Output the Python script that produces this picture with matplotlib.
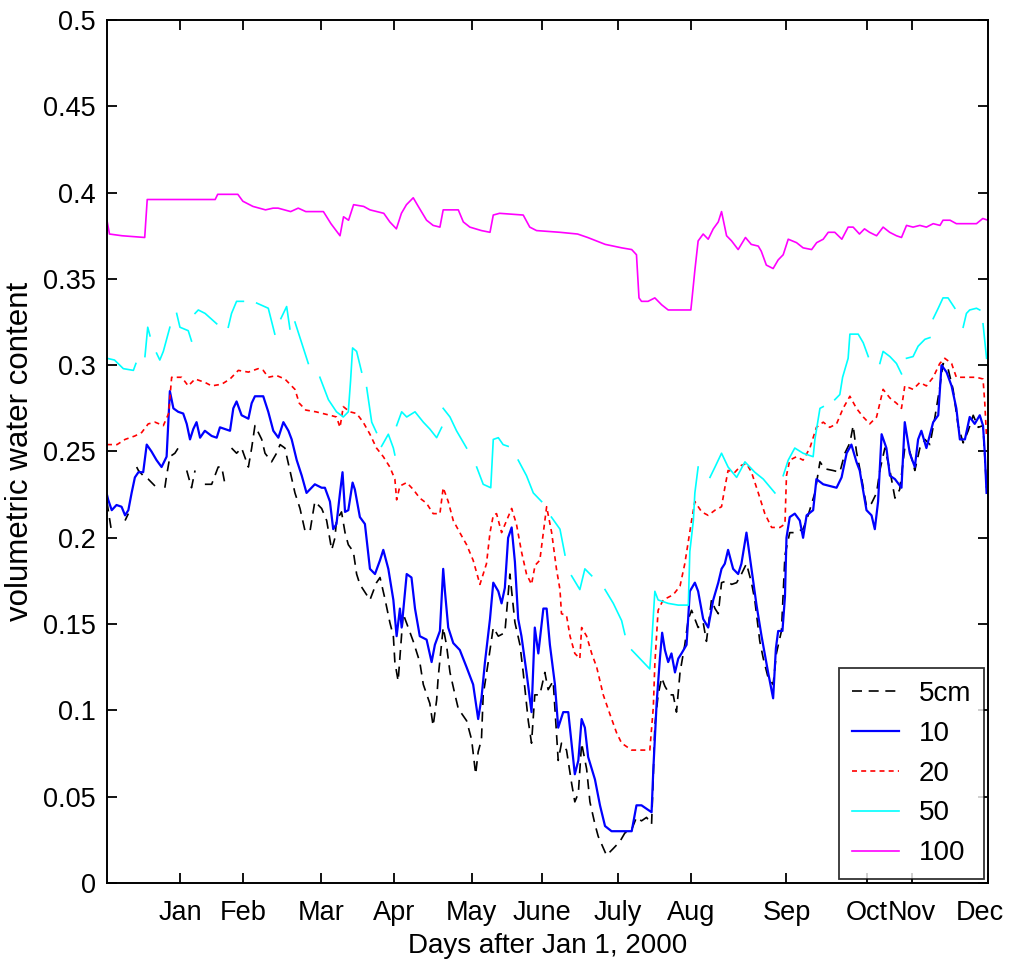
import numpy as np
import matplotlib
matplotlib.use("Agg")
import matplotlib.pyplot as plt
from matplotlib.transforms import ScaledTranslation

nan = np.nan

# soil moisture at five depths, days counted from the start of the record
day_100 = [0, 1, 6, 15, 16, 43, 44, 52, 54, 58, 63, 66, 68, 73, 76, 79, 86, 89, 92.6, 94,
           96, 98, 102, 104.5, 110, 112.4, 115, 117, 119, 121.7, 123.7, 127, 129.6, 132.3, 133.6,
           139.6, 141.6, 144.2, 148.8, 152.2, 153.5, 156, 165.4, 168, 170.7, 180, 187, 191, 198,
           204.5, 208.5, 210.4, 211.4, 212.4, 215, 217.7, 220.4, 223, 228, 232, 232.5, 233.6,
           234.9, 236.9, 238.9, 240.9, 242.9, 244.2, 246.2, 248.2, 250.8, 253.7, 256, 258.8, 260,
           262, 264.7, 266.7, 268.7, 270.7, 274, 276.6, 280, 282, 284.6, 286.6, 289.2, 292, 294.5,
           296.5, 299, 301, 303, 305.8, 308.4, 311, 313.7, 315.7, 317.7, 320.3, 323, 325.6, 328.3,
           331, 332.2, 335, 337.5, 340, 345.5, 348, 350]
vwc_100 = [0.384, 0.376, 0.375, 0.374, 0.396, 0.396, 0.399, 0.399, 0.395, 0.392, 0.390, 0.391,
           0.391, 0.389, 0.391, 0.389, 0.389, 0.382, 0.375, 0.386, 0.384, 0.393, 0.392, 0.390,
           0.388, 0.383, 0.379, 0.388, 0.393, 0.397, 0.392, 0.384, 0.381, 0.380, 0.390, 0.390,
           0.383, 0.380, 0.378, 0.377, 0.387, 0.388, 0.387, 0.380, 0.378, 0.377, 0.376, 0.374,
           0.370, 0.368, 0.367, 0.364, 0.339, 0.337, 0.337, 0.339, 0.335, 0.332, 0.332, 0.332,
           0.339, 0.355, 0.372, 0.376, 0.373, 0.379, 0.383, 0.389, 0.375, 0.372, 0.367, 0.374,
           0.370, 0.369, 0.366, 0.358, 0.356, 0.361, 0.364, 0.373, 0.371, 0.368, 0.367, 0.371,
           0.373, 0.377, 0.377, 0.373, 0.380, 0.380, 0.376, 0.379, 0.377, 0.375, 0.380, 0.377,
           0.375, 0.374, 0.381, 0.380, 0.381, 0.380, 0.382, 0.381, 0.384, 0.384, 0.382, 0.382,
           0.382, 0.385, 0.384]

# 50 cm probe has gaps (nan) where readings are missing
day_50 = [0, 3, 6.5, 10.5, 11.5, 13, 15.1, 16.2, 17.1, 18.4, 19.7, 21, 22.4, 25, 26.3,
          27.7, 29, 32.3, 33.6, 34.3, 35, 36.3, 39, 43.6, 46, 48.2, 49.5, 51.5, 54.2, 57,
          59.5, 64.1, 66.7, 68, 69.1, 71.4, 72.7, 73.7, 74.7, 80, 82,
          84.6, 88, 91.2, 93.9, 95.9, 96.8, 97.6, 99.2, 101.2, 102.2,
          103.2, 105.2, 107.1, 108.1, 109.1, 111.8, 113.8, 114.4, 114.8,
          115.1, 117.1, 119.1, 122.4, 125.7, 128.3, 131, 133, 133.3,
          133.6, 136.3, 138.9, 142.9, 145,
          146.9, 149.5, 152.5, 153.5, 155.5, 157.4, 159.4, 161.4,
          163.4, 166.7, 169.4, 172.7, 174.7, 176.6, 180, 182, 183.3,
          184.6, 187.9, 189.9, 192.6, 195, 197.9, 201.2, 204.5, 205.8, 207,
          208.5, 212.4, 215.7, 216.4, 217.7, 219, 223, 227, 231, 231.6, 233, 233.6, 234.9, 237,
          239.6, 241.6, 244.2, 246.8, 250.2, 253.5, 257.4, 260.8, 265.4, 266.5,
          268.7, 270.7, 273.3, 276.6, 280.6, 281.3, 283.3, 284.6, 287,
          289.2, 291.2, 292.3, 294.5, 295.2, 298.5, 300.5, 302.5, 305,
          307.1, 308.4, 311.1, 313.7, 315.7, 316.7,
          317.7, 320.3, 322.3, 325, 327, 327.6,
          328.3, 330.3, 332.2, 334.2, 336.9, 338.5,
          340.2, 341.5, 342.8, 345.5, 346.8, 347.5, 348.1, 349.5]
vwc_50 = [0.304, 0.303, 0.298, 0.297, 0.301, nan, 0.305, 0.322, 0.317, nan, 0.307, 0.303, 0.308, 0.322, nan,
          0.330, 0.322, 0.320, 0.314, nan, 0.330, 0.332, 0.330, 0.324, nan, 0.322, 0.330, 0.337, 0.337, nan,
          0.336, 0.333, 0.318, nan, 0.327, 0.334, 0.321, nan, 0.325, 0.301, nan,
          0.293, 0.280, 0.273, 0.270, 0.273, 0.291, 0.310, 0.308, 0.296, nan,
          0.287, 0.267, 0.261, nan, 0.253, 0.260, 0.252, 0.248, nan,
          0.265, 0.273, 0.270, 0.273, 0.267, 0.263, 0.258, 0.264, nan,
          0.275, 0.270, 0.262, 0.252, nan,
          0.241, 0.231, 0.229, 0.257, 0.258, 0.254, 0.253, nan,
          0.245, 0.236, 0.226, 0.221, nan, 0.212, 0.205, 0.190, nan,
          0.178, 0.170, 0.182, 0.178, nan, 0.170, 0.162, 0.152, 0.144, nan,
          0.135, 0.129, 0.124, 0.138, 0.169, 0.164, 0.162, 0.161, 0.161, 0.192, 0.210, 0.226, 0.241, nan,
          0.235, 0.241, 0.249, 0.241, 0.235, 0.244, 0.238, 0.234, 0.226, nan,
          0.236, 0.245, 0.252, 0.249, 0.247, 0.257, 0.275, 0.276, nan,
          0.280, 0.283, 0.293, 0.304, 0.318, 0.318, 0.313, 0.305, nan,
          0.301, 0.308, 0.305, 0.301, 0.295, nan,
          0.304, 0.305, 0.311, 0.315, 0.316, nan,
          0.327, 0.333, 0.339, 0.339, 0.333, nan,
          0.322, 0.330, 0.332, 0.333, 0.332, nan, 0.324, 0.304]

day_20 = [0, 4, 7.2, 11.1, 13.8, 16.4, 19.1, 22.4, 24.5, 25.7, 29.7, 32.3, 35, 39, 41.6, 45.6,
          48.9, 52.2, 56.2, 60.1, 62.1, 64.1, 67.4, 70.7, 74.7, 76.4, 79, 83, 88.6, 91.2, 92.6,
          93.9, 96.5, 99.2, 101.8, 104.5, 107.1, 109.8, 112.4, 114.4, 115.1, 116.4, 119.1, 121.7,
          124.3, 127, 129.6, 132.3, 133.6, 135.6, 137.6, 140.2, 142.9, 145.5, 148.2, 150.8, 152.2,
          153.5, 154.8, 156.8, 158.8, 160.8, 162.7, 164.7, 166.7, 168.7, 170.1, 172, 173.4, 174.7,
          176.7, 178.6, 180, 180.6, 182.6, 184, 185.9, 187.9, 188.6, 190.6, 192.6, 194.6, 197.2,
          199.8, 202.5, 204.5, 208.5, 215.7, 217.1, 217.7, 219, 221, 225, 227.7, 229.6, 232.3,
          233.6, 236.3, 238.9, 241.6, 244.2, 245.5, 246.8, 249.5, 252.1, 254.1, 256.1, 258.8,
          261.4, 264.1, 267.4, 269.4, 270, 271.3, 274, 276.6, 279.3, 281.9, 284.6, 287.2, 289.9,
          292.5, 295.2, 297.8, 300.5, 303.1, 305.8, 308.4, 311.1, 313.7, 315.7, 317, 320.3, 323,
          325.6, 328.3, 330.9, 332.9, 335.6, 337.5, 341.5, 345.5, 348.1, 348.8, 349.5]
vwc_20 = [0.254, 0.254, 0.257, 0.259, 0.261, 0.266, 0.267, 0.265, 0.272, 0.293, 0.293, 0.288,
          0.292, 0.290, 0.288, 0.289, 0.292, 0.297, 0.296, 0.298, 0.297, 0.293, 0.294, 0.292,
          0.286, 0.278, 0.274, 0.273, 0.271, 0.270, 0.264, 0.276, 0.273, 0.272, 0.267, 0.260,
          0.252, 0.247, 0.241, 0.234, 0.222, 0.230, 0.232, 0.228, 0.223, 0.220, 0.214, 0.214,
          0.229, 0.221, 0.210, 0.203, 0.196, 0.187, 0.173, 0.185, 0.203, 0.213, 0.214, 0.203,
          0.210, 0.217, 0.208, 0.192, 0.179, 0.173, 0.184, 0.187, 0.203, 0.218, 0.203, 0.182,
          0.170, 0.156, 0.155, 0.143, 0.133, 0.130, 0.148, 0.143, 0.133, 0.125, 0.109, 0.098,
          0.087, 0.081, 0.077, 0.077, 0.102, 0.127, 0.158, 0.164, 0.167, 0.172, 0.185, 0.210,
          0.221, 0.215, 0.213, 0.216, 0.218, 0.229, 0.239, 0.238, 0.242, 0.243, 0.238, 0.226,
          0.214, 0.206, 0.206, 0.208, 0.236, 0.245, 0.247, 0.245, 0.252, 0.264, 0.267, 0.264,
          0.266, 0.275, 0.282, 0.275, 0.270, 0.266, 0.270, 0.286, 0.281, 0.278, 0.275, 0.288,
          0.286, 0.290, 0.288, 0.293, 0.301, 0.304, 0.301, 0.293, 0.293, 0.293, 0.292, 0.278,
          0.258]

day_10 = [0, 0.5, 1.9, 3.8, 5.8, 7.2, 8.5, 9.8, 11.1, 12.5, 14.4, 15.8, 17.7, 19.7, 21.7, 23.7,
          25, 26.4, 28.3, 30.3, 31.7, 33, 34.3, 35.6, 37, 38.9, 41.6, 43.6, 44.9, 46.9, 48.9,
          50.2, 51.5, 53.5, 56.2, 57.5, 58.8, 62.1, 64.1, 66.1, 68.1, 70.1, 72.1, 73.4, 75.4,
          77.4, 79.3, 81.3, 82.6, 85.3, 86.6, 88.6, 89.9, 91.2, 92.6, 93.6, 94.6, 95.9, 97.6,
          98.5, 100.5, 102.5, 104.5, 106.5, 108.5, 109.8, 111.8, 113.8, 115.1, 116.4, 117.1,
          119.1, 121, 122.4, 124.3, 127, 129, 130.3, 132.3, 133.6, 134.3, 135.6, 137.6, 140.2,
          142.9, 145.5, 147.5, 148.8, 150.2, 152.2, 153.5, 155.5, 156.8, 158.1, 159.4, 160.8,
          162.1, 163.4, 164.7, 166.7, 168.7, 170, 171.4, 173.4, 174.7, 176, 178, 179.3, 181.3,
          183.3, 184.6, 185.9, 187.3, 188.6, 189.9, 191.2, 193.9, 195.9, 197.9, 200.5, 204.5,
          208.5, 210.4, 212.4, 214.4, 216.4, 217.1, 218.4, 219.7, 220.6, 221.7, 223, 224.3,
          225.7, 227, 228.3, 230.3, 231.6, 233.6, 234.9, 236.9, 238.9, 240.9, 242.9, 244.2,
          245.5, 246.8, 248.8, 250.8, 252.1, 254.1, 256.1, 258.1, 260.1, 262.7, 264.7, 265.8,
          266.7, 268.4, 269.4, 270, 271.3, 273.3, 275.3, 276.6, 278, 280.6, 281.9, 284.6, 287.2,
          289.9, 291.9, 293.9, 295.8, 297.8, 299.1, 301.8, 303.8, 305.1, 306.4, 307.8, 309.7,
          311.1, 313.1, 315.7, 317, 319, 321, 322.3, 323.6, 325.6, 328.3, 330.3, 331.6, 333.6,
          335.6, 337.5, 338.9, 340.9, 342.8, 344.8, 346.8, 348.1, 348.8, 349.5]
vwc_10 = [0.225, 0.222, 0.216, 0.219, 0.218, 0.213, 0.216, 0.226, 0.235, 0.238, 0.238, 0.254,
          0.250, 0.245, 0.241, 0.247, 0.285, 0.275, 0.273, 0.272, 0.266, 0.257, 0.263, 0.267,
          0.258, 0.262, 0.259, 0.258, 0.264, 0.263, 0.262, 0.275, 0.279, 0.271, 0.269, 0.278,
          0.282, 0.282, 0.273, 0.262, 0.258, 0.267, 0.262, 0.257, 0.245, 0.236, 0.226, 0.229,
          0.231, 0.229, 0.229, 0.221, 0.205, 0.208, 0.226, 0.238, 0.215, 0.216, 0.232, 0.228,
          0.212, 0.208, 0.182, 0.179, 0.187, 0.193, 0.182, 0.164, 0.143, 0.159, 0.148, 0.179,
          0.177, 0.159, 0.143, 0.141, 0.128, 0.138, 0.146, 0.182, 0.169, 0.148, 0.139, 0.135,
          0.125, 0.115, 0.095, 0.107, 0.128, 0.153, 0.174, 0.169, 0.162, 0.171, 0.200, 0.206,
          0.186, 0.153, 0.143, 0.122, 0.099, 0.148, 0.133, 0.159, 0.159, 0.138, 0.115, 0.090,
          0.099, 0.099, 0.081, 0.063, 0.071, 0.095, 0.090, 0.073, 0.060, 0.045, 0.033, 0.030,
          0.030, 0.030, 0.045, 0.045, 0.043, 0.041, 0.066, 0.104, 0.130, 0.145, 0.135, 0.128,
          0.133, 0.122, 0.130, 0.133, 0.138, 0.169, 0.174, 0.169, 0.153, 0.148, 0.164, 0.174,
          0.182, 0.185, 0.193, 0.182, 0.179, 0.185, 0.203, 0.182, 0.161, 0.143, 0.122, 0.107,
          0.136, 0.146, 0.146, 0.166, 0.200, 0.212, 0.214, 0.210, 0.200, 0.213, 0.216, 0.234,
          0.231, 0.230, 0.229, 0.235, 0.249, 0.254, 0.244, 0.239, 0.216, 0.213, 0.205, 0.221,
          0.260, 0.252, 0.236, 0.234, 0.229, 0.267, 0.249, 0.241, 0.257, 0.262, 0.252, 0.267,
          0.271, 0.300, 0.296, 0.288, 0.275, 0.257, 0.257, 0.270, 0.266, 0.271, 0.265, 0.249,
          0.226]

day_5 = [0, 0.5, 1.9, 4, 7.2, 8.5, 10, 11.8, 12.5, 14.4, 16.4, 19.1, 21, 23, 23.7, 25, 27, 28.3,
         30, 31.7, 33.6, 35, 37, 38.9, 41.6, 44.2, 45.6, 46.9, 48, 49.5, 51.5, 53.5, 56.2, 57.5,
         58.8, 61.5, 62.8, 65.4, 67.4, 68.8, 70.7, 72.7, 74.7, 76.7, 78.7, 80.7, 82.6, 85.3,
         87.3, 89.3, 90.6, 91.2, 93.2, 94.6, 95.9, 97.9, 99.2, 100.5, 103.2, 104.5, 107.1, 108.5,
         110.4, 112.4, 113.8, 114.4, 115.7, 117.7, 119.7, 121.7, 124.3, 125.7, 128.3, 129.6, 131,
         131.6, 133.6, 134.9, 136.3, 138.3, 139.6, 142.9, 144.9, 146.5, 147.5, 148.8, 149.5,
         151.5, 153.5, 155.5, 158.1, 160.1, 162.1, 164.1, 165.4, 167.4, 168.7, 170, 172, 174,
         175.3, 177.3, 179.3, 180.6, 182.6, 184.6, 185.9, 187.3, 188.6, 190.6, 191.9, 193.9,
         195.2, 198.5, 201.2, 203.8, 205.8, 208.5, 210.4, 212.4, 214.4, 216.4, 217.1, 217.7, 219,
         220.4, 221.7, 223.7, 225, 226.3, 227.7, 229.6, 231, 232.3, 234.9, 236.9, 238.2, 240.2,
         241.6, 242.9, 244.2, 246.2, 248.2, 250.2, 252.1, 254.1, 256.1, 257.4, 259.4, 260.8,
         262.7, 264.7, 266, 268, 269.4, 271.3, 273.3, 276.6, 278.6, 281.3, 283.3, 285.2, 288.5,
         291.2, 293.2, 295.2, 296.5, 297.8, 299.8, 301.8, 303.8, 305.8, 307.1, 309.1, 311.1,
         313.1, 315, 317, 319, 321, 323, 325, 327, 329, 331, 332.2, 334.2, 336.2, 338.2, 340.2,
         342.2, 344.2, 346.2, 348.1, 349.5]
vwc_5 = [0.221, 0.216, 0.203, nan, 0.210, 0.214, nan, 0.241, 0.239, 0.236, 0.234, 0.230, nan,
         0.229, 0.236, 0.247, 0.249, 0.252, nan, 0.239, 0.229, 0.239, nan, 0.231, 0.231, 0.241,
         0.241, 0.231, nan, 0.252, 0.249, 0.252, 0.241, 0.252, 0.265, 0.257, 0.249, 0.244, 0.249,
         0.254, 0.252, 0.239, 0.226, 0.217, 0.204, 0.204, 0.221, 0.217, 0.210, 0.193, 0.200,
         0.210, 0.215, 0.203, 0.196, 0.192, 0.179, 0.173, 0.167, 0.164, 0.174, 0.177, 0.165,
         0.151, 0.143, 0.128, 0.117, 0.156, 0.148, 0.140, 0.128, 0.115, 0.104, 0.091, 0.106,
         0.119, 0.148, 0.138, 0.122, 0.109, 0.101, 0.094, 0.083, 0.063, 0.076, 0.083, 0.109,
         0.128, 0.148, 0.143, 0.145, 0.179, 0.151, 0.138, 0.122, 0.094, 0.081, 0.109, 0.109,
         0.122, 0.112, 0.117, 0.071, 0.081, 0.077, 0.058, 0.047, 0.052, 0.081, 0.066, 0.047,
         0.034, 0.027, 0.016, 0.020, 0.024, 0.029, 0.031, 0.038, 0.036, 0.038, 0.034, 0.063,
         0.091, 0.109, 0.119, 0.114, 0.109, 0.109, 0.099, 0.122, 0.138, 0.153, 0.158, 0.148,
         0.151, 0.140, 0.164, 0.159, 0.156, 0.174, 0.175, 0.173, 0.174, 0.179, 0.185, 0.174,
         0.164, 0.140, 0.130, 0.119, 0.115, 0.133, 0.146, 0.190, 0.203, 0.203, 0.205, 0.213,
         0.226, 0.244, 0.240, 0.239, 0.238, 0.249, 0.255, 0.265, 0.250, 0.235, 0.218, 0.220,
         0.226, 0.239, 0.252, 0.239, 0.223, 0.228, 0.252, 0.250, 0.239, 0.252, 0.257, 0.254,
         0.270, 0.288, 0.301, 0.298, 0.286, 0.265, 0.255, 0.262, 0.271, 0.264, 0.265, 0.229]

month_days = [29, 54, 85, 114, 145, 173, 203, 232, 270, 302, 320, 350]
month_names = ["Jan", "Feb", "Mar", "Apr", "May", "June", "July", "Aug", "Sep", "Oct", "Nov", "Dec"]
yticks = [0, 0.05, 0.1, 0.15, 0.2, 0.25, 0.3, 0.35, 0.4, 0.45, 0.5]

plt.rcParams["font.family"] = ["Liberation Sans", "DejaVu Sans"]

fig = plt.figure(figsize=(10.09, 9.76), dpi=100)
ax = fig.add_axes([0.106, 0.0953, 0.873, 0.8842])

ax.plot(day_5, vwc_5, color="black", lw=1.2, dashes=(6, 4), label="5cm")
ax.plot(day_10, vwc_10, color="#0000ff", lw=1.6, label="10")
ax.plot(day_20, vwc_20, color="#ff0000", lw=1.2, dashes=(3, 2.5), label="20")
ax.plot(day_50, vwc_50, color="#00ffff", lw=1.2, label="50")
ax.plot(day_100, vwc_100, color="#ff00ff", lw=1.2, label="100")

ax.set_xlim(0, 350)
ax.set_ylim(0, 0.5)
ax.set_xticks(month_days)
ax.set_xticklabels(month_names)
ax.set_yticks(yticks)
ax.set_yticklabels([f"{v:g}" for v in yticks])
ax.tick_params(direction="in", length=7, width=1.3, top=True, right=True,
               labelsize=19.5, pad=8)
ax.tick_params(axis="x", pad=12)
for s in ax.spines.values():
    s.set_linewidth(1.4)

# last month label sits on the right edge; pull it in a little
dec = ax.get_xticklabels()[-1]
dec.set_transform(dec.get_transform() + ScaledTranslation(-6 / 72, 0, fig.dpi_scale_trans))

ax.set_xlabel("Days after Jan 1, 2000", fontsize=20, labelpad=5)
ax.set_ylabel("volumetric water content", fontsize=22.5)
ax.yaxis.set_label_coords(-0.082, 0.5)

leg = ax.legend(loc="lower right", fontsize=20, frameon=True, fancybox=False,
                edgecolor="black", borderaxespad=0.15, handlelength=1.7,
                labelspacing=0.5, handletextpad=0.7, borderpad=0.45)
leg.get_frame().set_linewidth(1.3)

fig.savefig("out.png", dpi=100)
